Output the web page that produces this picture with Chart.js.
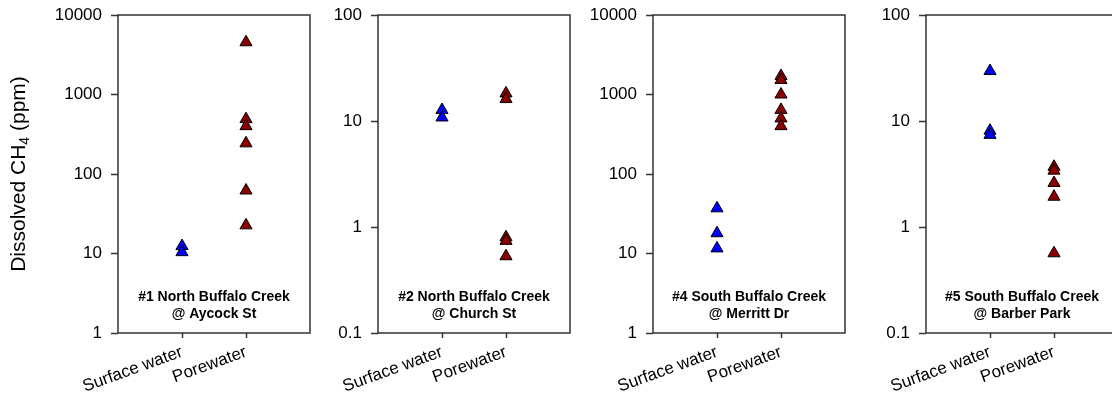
<!DOCTYPE html>
<html>
<head>
<meta charset="utf-8">
<script src="https://cdn.jsdelivr.net/npm/chart.js@4/dist/chart.umd.min.js"></script>
<style>
  html, body { margin: 0; padding: 0; background: #fff; overflow: hidden; }
  #wrap { position: relative; width: 1112px; height: 396px; }
  canvas { position: absolute; top: 0; }
</style>
</head>
<body>
<div id="wrap">
  <canvas id="site1" width="312" height="396" style="left:0px"></canvas>
  <canvas id="site2" width="264" height="396" style="left:308px"></canvas>
  <canvas id="site4" width="264" height="396" style="left:583px"></canvas>
  <canvas id="site5" width="264" height="396" style="left:856px"></canvas>
</div>
<script>
const categories = ["Surface water", "Porewater"];

const site1Surface = [12.4, 10.4];
const site1Pore = [4540, 490, 400, 243, 62, 22.6];
const site2Surface = [12.7, 10.8];
const site2Pore = [18.2, 16.1, 0.8, 0.74, 0.53];
const site4Surface = [37, 18, 11.6];
const site4Pore = [1710, 1520, 1000, 640, 500, 400];
const site5Surface = [29.6, 8.1, 7.4];
const site5Pore = [3.7, 3.4, 2.6, 1.93, 0.565];

const site1Label = ["#1 North Buffalo Creek", "@ Aycock St"];
const site2Label = ["#2 North Buffalo Creek", "@ Church St"];
const site4Label = ["#4 South Buffalo Creek", "@ Merritt Dr"];
const site5Label = ["#5 South Buffalo Creek", "@ Barber Park"];

const ticksWide = [1, 10, 100, 1000, 10000];
const ticksNarrow = [0.1, 1, 10, 100];

const fonte = "'Liberation Sans', Arial, sans-serif";
const corLinha = "#333";

// moldura em volta da area do grafico
const moldura = {
    id: "moldura",
    afterDraw(chart) {
        const a = chart.chartArea;
        const ctx = chart.ctx;
        ctx.save();
        ctx.strokeStyle = corLinha;
        ctx.lineWidth = 1.5;
        ctx.strokeRect(a.left, a.top, a.right - a.left, a.bottom - a.top);
        ctx.restore();
    }
};

// nome do ponto de coleta dentro do grafico
const rotulo = {
    id: "rotulo",
    afterDatasetsDraw(chart, args, opts) {
        const a = chart.chartArea;
        const ctx = chart.ctx;
        const cx = (a.left + a.right) / 2;
        ctx.save();
        ctx.font = "bold 14px " + fonte;
        ctx.fillStyle = "#000";
        ctx.textAlign = "center";
        ctx.textBaseline = "middle";
        ctx.fillText(opts.linhas[0], cx, a.bottom - 36);
        ctx.fillText(opts.linhas[1], cx, a.bottom - 19);
        ctx.restore();
    }
};

// titulo do eixo y com subscrito
const tituloY = {
    id: "tituloY",
    afterDraw(chart, args, opts) {
        if (!opts.mostrar) return;
        const a = chart.chartArea;
        const ctx = chart.ctx;
        const grande = "21px " + fonte;
        const pequeno = "14px " + fonte;
        ctx.save();
        ctx.font = grande;
        const w1 = ctx.measureText("Dissolved CH").width;
        const w3 = ctx.measureText(" (ppm)").width;
        ctx.font = pequeno;
        const w2 = ctx.measureText("4").width;
        const total = w1 + w2 + w3;
        ctx.translate(25, (a.top + a.bottom) / 2);
        ctx.rotate(-Math.PI / 2);
        ctx.fillStyle = "#000";
        ctx.textBaseline = "alphabetic";
        ctx.textAlign = "left";
        let x = -total / 2;
        ctx.font = grande;
        ctx.fillText("Dissolved CH", x, 0);
        x += w1;
        ctx.font = pequeno;
        ctx.fillText("4", x, 4);
        x += w2;
        ctx.font = grande;
        ctx.fillText(" (ppm)", x, 0);
        ctx.restore();
    }
};

function pontos(cat, valores) {
    return valores.map(v => ({ x: cat, y: v }));
}

function criaGrafico(id, superficie, poro, marcas, linhas, larguraY, comTitulo) {
    return new Chart(document.getElementById(id), {
        type: "scatter",
        data: {
            datasets: [{
                label: categories[0],
                data: pontos(1, superficie),
                pointStyle: "triangle",
                pointRadius: 7,
                pointHoverRadius: 7,
                backgroundColor: "#0000ff",
                borderColor: "#000",
                borderWidth: 1
            }, {
                label: categories[1],
                data: pontos(2, poro),
                pointStyle: "triangle",
                pointRadius: 7,
                pointHoverRadius: 7,
                backgroundColor: "#8b0000",
                borderColor: "#000",
                borderWidth: 1
            }]
        },
        options: {
            responsive: false,
            animation: false,
            events: [],
            layout: { autoPadding: false, padding: { top: 15, right: 2, bottom: 3, left: 0 } },
            plugins: {
                legend: { display: false },
                tooltip: { enabled: false },
                rotulo: { linhas: linhas },
                tituloY: { mostrar: comTitulo }
            },
            scales: {
                x: {
                    type: "linear",
                    min: 0,
                    max: 3,
                    afterBuildTicks: axis => { axis.ticks = [{ value: 1 }, { value: 2 }]; },
                    afterFit: s => { s.height = 60; s.paddingLeft = 0; s.paddingRight = 0; },
                    border: { display: false },
                    grid: {
                        drawOnChartArea: false,
                        drawTicks: true,
                        tickLength: 5,
                        tickWidth: 1.5,
                        tickColor: corLinha
                    },
                    ticks: {
                        autoSkip: false,
                        minRotation: 20,
                        maxRotation: 20,
                        padding: 4,
                        color: "#000",
                        font: { family: fonte, size: 17 },
                        callback: v => categories[v - 1]
                    }
                },
                y: {
                    type: "logarithmic",
                    min: marcas[0],
                    max: marcas[marcas.length - 1],
                    afterBuildTicks: axis => { axis.ticks = marcas.map(v => ({ value: v })); },
                    afterFit: s => { s.width = larguraY; s.paddingTop = 0; s.paddingBottom = 0; },
                    border: { display: false },
                    grid: {
                        drawOnChartArea: false,
                        drawTicks: true,
                        tickLength: 7,
                        tickWidth: 1.5,
                        tickColor: corLinha
                    },
                    ticks: {
                        padding: 9,
                        color: "#000",
                        font: { family: fonte, size: 17 },
                        callback: v => String(v)
                    }
                }
            }
        },
        plugins: [moldura, rotulo, tituloY]
    });
}

criaGrafico("site1", site1Surface, site1Pore, ticksWide, site1Label, 118, true);
criaGrafico("site2", site2Surface, site2Pore, ticksNarrow, site2Label, 70, false);
criaGrafico("site4", site4Surface, site4Pore, ticksWide, site4Label, 70, false);
criaGrafico("site5", site5Surface, site5Pore, ticksNarrow, site5Label, 70, false);
</script>
</body>
</html>
